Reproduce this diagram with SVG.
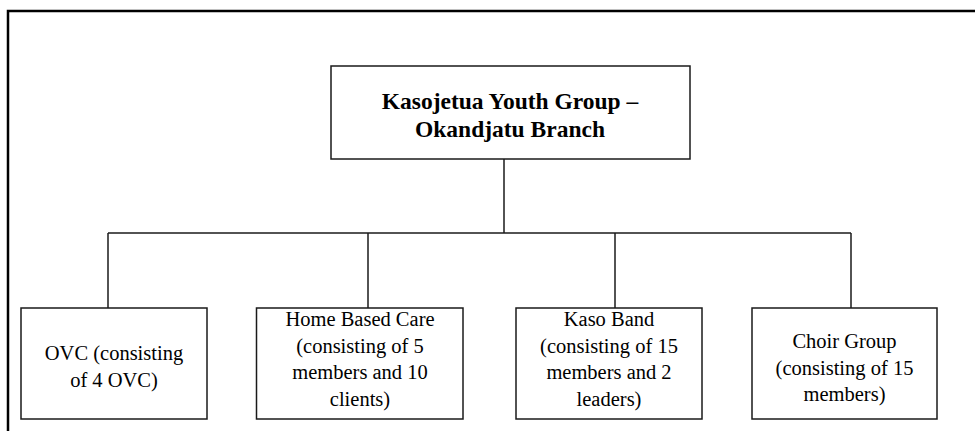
<svg xmlns="http://www.w3.org/2000/svg" width="975" height="431" viewBox="0 0 975 431">
<style>
.frame{fill:none;stroke:#000;stroke-width:2.5}
.box{fill:#fff;stroke:#1a1a1a;stroke-width:1.5}
.conn{fill:none;stroke:#1a1a1a;stroke-width:1.5}
.t{font-family:"Liberation Serif","Times New Roman",serif;font-size:20.5px;fill:#000;text-anchor:middle}
.tb{font-family:"Liberation Serif","Times New Roman",serif;font-size:23.5px;font-weight:bold;fill:#000;text-anchor:middle}
</style>
<rect width="975" height="431" fill="#fff"/>
<path class="frame" d="M8,431 V11 H975"/>
<g id="connectors">
<path class="conn" d="M504,159 V233"/>
<path class="conn" d="M108,233 H851"/>
<path class="conn" d="M108,233 V308"/>
<path class="conn" d="M368,233 V308"/>
<path class="conn" d="M615,233 V308"/>
<path class="conn" d="M851,233 V308"/>
</g>
<g id="root">
<rect class="box" x="331" y="66" width="359" height="93"/>
<text class="tb" x="510" y="109">Kasojetua Youth Group –</text>
<text class="tb" x="510" y="137">Okandjatu Branch</text>
</g>
<g id="ovc">
<rect class="box" x="21" y="308" width="186" height="111"/>
<text class="t" x="114" y="360">OVC (consisting</text>
<text class="t" x="114" y="386.5">of 4 OVC)</text>
</g>
<g id="hbc">
<rect class="box" x="256.5" y="308" width="206.5" height="111"/>
<text class="t" x="360" y="326">Home Based Care</text>
<text class="t" x="360" y="352.5">(consisting of 5</text>
<text class="t" x="360" y="379">members and 10</text>
<text class="t" x="360" y="405.5">clients)</text>
</g>
<g id="kaso">
<rect class="box" x="516" y="308" width="186" height="111"/>
<text class="t" x="609" y="326">Kaso Band</text>
<text class="t" x="609" y="352.5">(consisting of 15</text>
<text class="t" x="609" y="379">members and 2</text>
<text class="t" x="609" y="405.5">leaders)</text>
</g>
<g id="choir">
<rect class="box" x="752" y="308" width="185" height="111"/>
<text class="t" x="844.5" y="348">Choir Group</text>
<text class="t" x="844.5" y="374.5">(consisting of 15</text>
<text class="t" x="844.5" y="401">members)</text>
</g>
</svg>
